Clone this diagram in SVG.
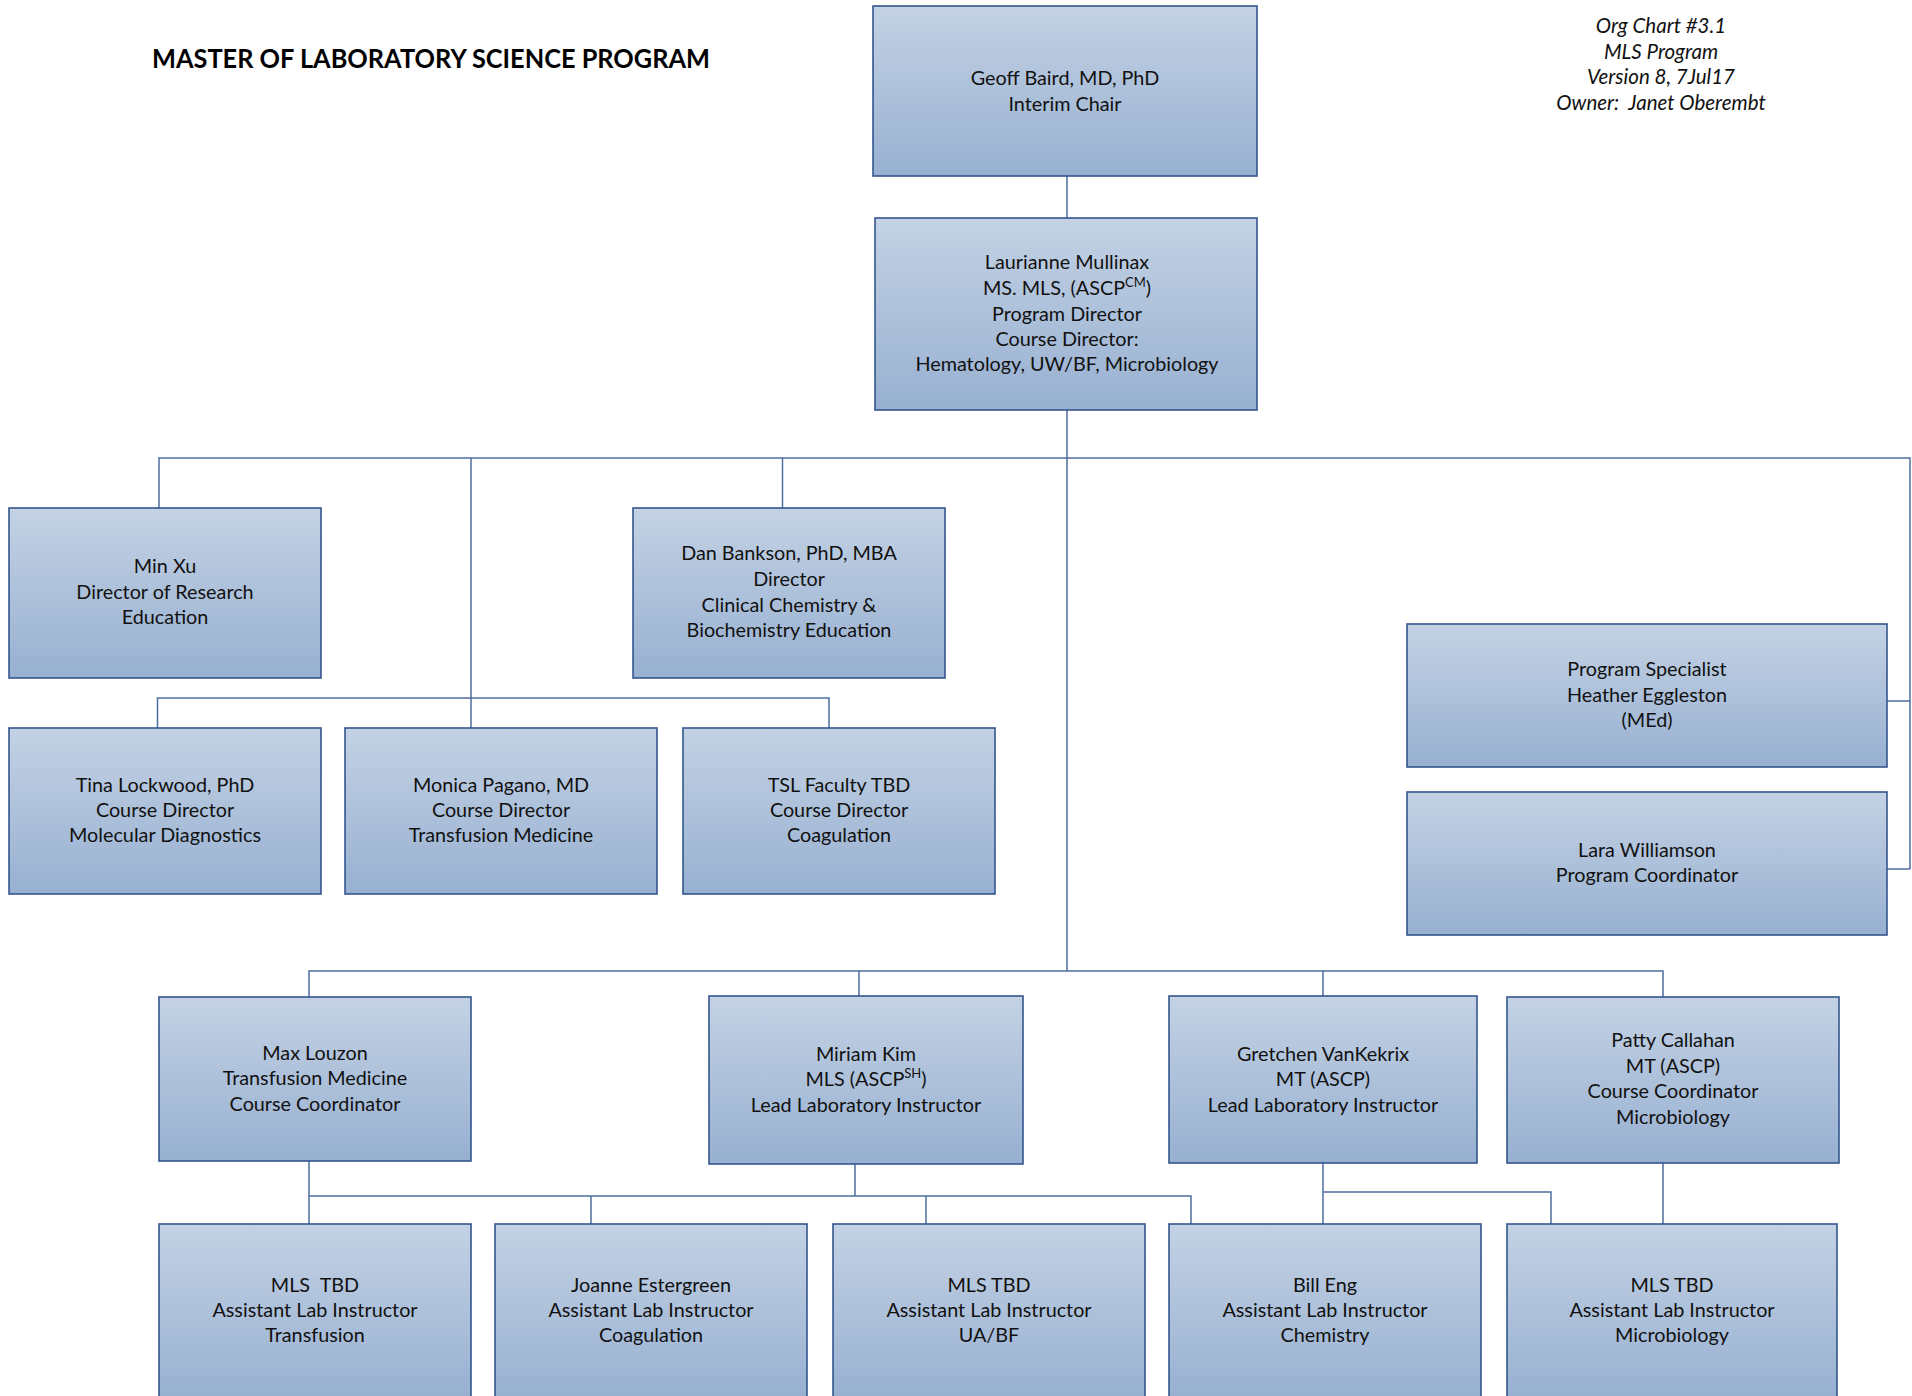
<svg xmlns="http://www.w3.org/2000/svg" width="1912" height="1396" viewBox="0 0 1912 1396">
<defs>
<linearGradient id="g" x1="0" y1="0" x2="0" y2="1">
<stop offset="0" stop-color="#c4d2e4"/>
<stop offset="1" stop-color="#97b0d1"/>
</linearGradient>
<style>
.box{fill:url(#g);stroke:#34568e;stroke-width:1.6}
.t{font-family:Lato,"Liberation Sans",sans-serif;font-size:19.8px;fill:#111;text-anchor:middle}
.hdr{font-family:Lato,"Liberation Sans",sans-serif;font-size:20.5px;font-style:italic;fill:#111;text-anchor:middle}
.title{font-family:Lato,"Liberation Sans",sans-serif;font-size:26px;font-weight:bold;fill:#000}
.c{fill:none;stroke:#4d6d9f;stroke-width:1.5}
.sup{font-size:13px}
</style>
</defs>
<rect width="1912" height="1396" fill="#fff"/>
<text class="title" x="152" y="68" textLength="558" lengthAdjust="spacingAndGlyphs">MASTER OF LABORATORY SCIENCE PROGRAM</text>
<g id="header">
<text class="hdr" x="1661" y="33">Org Chart #3.1</text>
<text class="hdr" x="1661" y="59">MLS Program</text>
<text class="hdr" x="1661" y="84">Version 8, 7Jul17</text>
<text class="hdr" x="1661" y="110" xml:space="preserve">Owner:  Janet Oberembt</text>
</g>
<g id="connectors">
<path class="c" d="M1067 176V218"/>
<path class="c" d="M1067 410V971"/>
<path class="c" d="M159 508V458H1910V869"/>
<path class="c" d="M471 458V728"/>
<path class="c" d="M782.5 458V508"/>
<path class="c" d="M157.5 728V698H829V728"/>
<path class="c" d="M1887 701H1910"/>
<path class="c" d="M1887 869H1910"/>
<path class="c" d="M309 997V971H1663V997"/>
<path class="c" d="M859 971V996"/>
<path class="c" d="M1323 971V996"/>
<path class="c" d="M309 1161V1224"/>
<path class="c" d="M309 1196H1191V1224"/>
<path class="c" d="M855 1164V1196"/>
<path class="c" d="M591 1196V1224"/>
<path class="c" d="M926 1196V1224"/>
<path class="c" d="M1323 1163V1224"/>
<path class="c" d="M1323 1192H1551V1224"/>
<path class="c" d="M1663 1163V1224"/>
</g>
<g id="geoff"><rect class="box" x="873" y="6" width="384" height="170"/>
<text class="t" x="1065" y="85">Geoff Baird, MD, PhD</text><text class="t" x="1065" y="111">Interim Chair</text></g>
<g id="laurianne"><rect class="box" x="875" y="218" width="382" height="192"/>
<text class="t" x="1067" y="269">Laurianne Mullinax</text>
<text class="t" x="1067" y="295">MS. MLS, (ASCP<tspan class="sup" dy="-8">CM</tspan><tspan dy="8">)</tspan></text>
<text class="t" x="1067" y="321">Program Director</text>
<text class="t" x="1067" y="346">Course Director:</text>
<text class="t" x="1067" y="371">Hematology, UW/BF, Microbiology</text></g>
<g id="minxu"><rect class="box" x="9" y="508" width="312" height="170"/>
<text class="t" x="165" y="573">Min Xu</text><text class="t" x="165" y="599">Director of Research</text><text class="t" x="165" y="624">Education</text></g>
<g id="dan"><rect class="box" x="633" y="508" width="312" height="170"/>
<text class="t" x="789" y="560">Dan Bankson, PhD, MBA</text><text class="t" x="789" y="586">Director</text><text class="t" x="789" y="612">Clinical Chemistry &amp;</text><text class="t" x="789" y="637">Biochemistry Education</text></g>
<g id="tina"><rect class="box" x="9" y="728" width="312" height="166"/>
<text class="t" x="165" y="792">Tina Lockwood, PhD</text><text class="t" x="165" y="817">Course Director</text><text class="t" x="165" y="842">Molecular Diagnostics</text></g>
<g id="monica"><rect class="box" x="345" y="728" width="312" height="166"/>
<text class="t" x="501" y="792">Monica Pagano, MD</text><text class="t" x="501" y="817">Course Director</text><text class="t" x="501" y="842">Transfusion Medicine</text></g>
<g id="tsl"><rect class="box" x="683" y="728" width="312" height="166"/>
<text class="t" x="839" y="792">TSL Faculty TBD</text><text class="t" x="839" y="817">Course Director</text><text class="t" x="839" y="842">Coagulation</text></g>
<g id="heather"><rect class="box" x="1407" y="624" width="480" height="143"/>
<text class="t" x="1647" y="676">Program Specialist</text><text class="t" x="1647" y="702">Heather Eggleston</text><text class="t" x="1647" y="727">(MEd)</text></g>
<g id="lara"><rect class="box" x="1407" y="792" width="480" height="143"/>
<text class="t" x="1647" y="857">Lara Williamson</text><text class="t" x="1647" y="882">Program Coordinator</text></g>
<g id="max"><rect class="box" x="159" y="997" width="312" height="164"/>
<text class="t" x="315" y="1060">Max Louzon</text><text class="t" x="315" y="1085">Transfusion Medicine</text><text class="t" x="315" y="1111">Course Coordinator</text></g>
<g id="miriam"><rect class="box" x="709" y="996" width="314" height="168"/>
<text class="t" x="866" y="1061">Miriam Kim</text>
<text class="t" x="866" y="1086">MLS (ASCP<tspan class="sup" dy="-8">SH</tspan><tspan dy="8">)</tspan></text>
<text class="t" x="866" y="1112">Lead Laboratory Instructor</text></g>
<g id="gretchen"><rect class="box" x="1169" y="996" width="308" height="167"/>
<text class="t" x="1323" y="1061">Gretchen VanKekrix</text><text class="t" x="1323" y="1086">MT (ASCP)</text><text class="t" x="1323" y="1112">Lead Laboratory Instructor</text></g>
<g id="patty"><rect class="box" x="1507" y="997" width="332" height="166"/>
<text class="t" x="1673" y="1047">Patty Callahan</text><text class="t" x="1673" y="1073">MT (ASCP)</text><text class="t" x="1673" y="1098">Course Coordinator</text><text class="t" x="1673" y="1124">Microbiology</text></g>
<g id="mlstbd-transfusion"><rect class="box" x="159" y="1224" width="312" height="174"/>
<text class="t" x="315" y="1292" xml:space="preserve">MLS  TBD</text><text class="t" x="315" y="1317">Assistant Lab Instructor</text><text class="t" x="315" y="1342">Transfusion</text></g>
<g id="joanne"><rect class="box" x="495" y="1224" width="312" height="174"/>
<text class="t" x="651" y="1292">Joanne Estergreen</text><text class="t" x="651" y="1317">Assistant Lab Instructor</text><text class="t" x="651" y="1342">Coagulation</text></g>
<g id="mlstbd-uabf"><rect class="box" x="833" y="1224" width="312" height="174"/>
<text class="t" x="989" y="1292">MLS TBD</text><text class="t" x="989" y="1317">Assistant Lab Instructor</text><text class="t" x="989" y="1342">UA/BF</text></g>
<g id="bill"><rect class="box" x="1169" y="1224" width="312" height="174"/>
<text class="t" x="1325" y="1292">Bill Eng</text><text class="t" x="1325" y="1317">Assistant Lab Instructor</text><text class="t" x="1325" y="1342">Chemistry</text></g>
<g id="mlstbd-micro"><rect class="box" x="1507" y="1224" width="330" height="174"/>
<text class="t" x="1672" y="1292">MLS TBD</text><text class="t" x="1672" y="1317">Assistant Lab Instructor</text><text class="t" x="1672" y="1342">Microbiology</text></g>
</svg>
